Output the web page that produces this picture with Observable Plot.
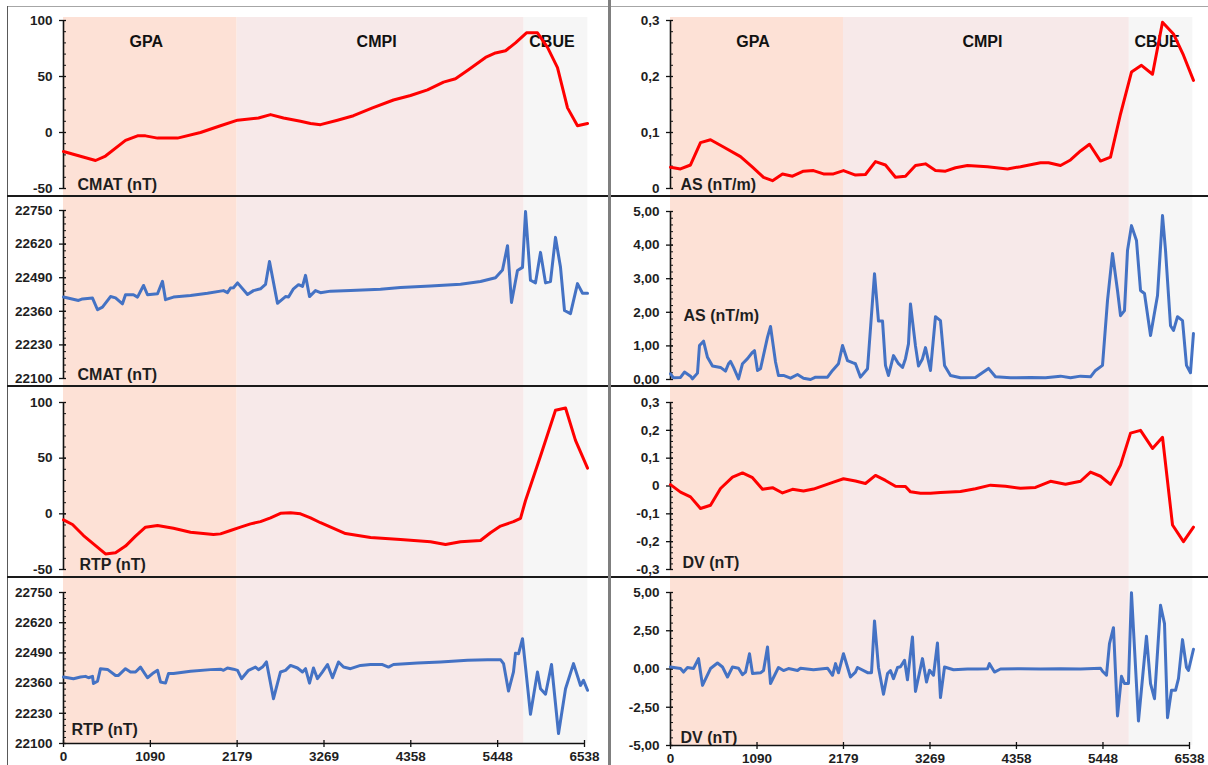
<!DOCTYPE html>
<html><head><meta charset="utf-8">
<script src="https://cdn.jsdelivr.net/npm/d3@7"></script>
<script src="https://cdn.jsdelivr.net/npm/@observablehq/plot@0.6"></script>
<style>
body{margin:0;background:#fff}
#wrap{position:relative;width:1208px;height:765px;overflow:hidden;background:#fff}
.panel{position:absolute}
.line{position:absolute}
</style>
</head><body><div id="wrap"></div>
<script>
// Regions along the profile (distance, m)
const regionNames = ["GPA", "CMPI", "CBUE"];
const regionStart = [0, 2179, 5780];
const regionEnd = [2179, 5780, 6580];
const regionFill = ["#fde1d6", "#f7e9e9", "#f6f6f6"];
const xTicks = [0, 1090, 2179, 3269, 4358, 5448, 6538];

// CMAT residual (nT)
const cmatResX = [0,402,527,778,929,1029,1180,1431,1719,1970,2184,2447,2598,2761,2974,3100,3225,3438,3639,3878,4141,4355,4568,4769,4919,5082,5296,5421,5547,5672,5810,5948,6074,6199,6325,6450,6576];
const cmatResV = [-17,-25,-21,-7,-3,-3,-5,-5,0,6,11,13,16,13,10,8,7,11,15,22,29,33,38,45,48,56,67,71,73,80,89,89,76,58,22,6,8];

// CMAT total field (nT)
const cmatTotX = [0,188,238,364,427,489,590,653,740,778,878,929,1004,1054,1180,1242,1280,1380,1594,1807,2008,2058,2096,2133,2184,2309,2384,2472,2535,2585,2685,2786,2824,2886,2949,2999,3037,3087,3162,3225,3351,3602,3978,4229,4605,4982,5233,5421,5509,5572,5622,5697,5760,5798,5860,5923,5986,6049,6111,6174,6237,6287,6362,6450,6513,6576];
const cmatTotV = [22415,22402,22408,22411,22366,22376,22417,22412,22389,22424,22424,22415,22460,22424,22428,22476,22405,22415,22421,22430,22440,22432,22450,22451,22470,22425,22440,22447,22464,22553,22391,22417,22415,22447,22463,22456,22499,22417,22440,22432,22438,22440,22445,22452,22458,22465,22475,22490,22520,22614,22394,22518,22530,22746,22480,22470,22588,22470,22475,22646,22530,22363,22351,22467,22430,22430];

// RTP residual (nT)
const rtpResX = [0,113,251,402,527,653,778,904,1029,1180,1380,1594,1882,1970,2096,2221,2347,2472,2598,2723,2849,2974,3100,3225,3539,3853,4229,4605,4794,4982,5233,5358,5484,5647,5735,5798,5986,6174,6300,6425,6576];
const rtpResV = [-5.4,-9.6,-19.5,-28.5,-36,-35,-29,-20,-12,-10.5,-13,-16.5,-18.6,-18,-15,-12,-9,-7,-3.6,0.5,1,0,-3.6,-8,-17.7,-21.3,-23,-25,-27.6,-25,-24,-17,-11,-7,-4,12,52,93,95,66,41];

// RTP total (nT)
const rtpTotX = [0,125,213,276,314,364,376,427,464,552,653,690,778,841,904,966,1054,1117,1180,1217,1280,1318,1380,1594,1845,1970,2008,2058,2133,2184,2234,2322,2409,2447,2497,2547,2635,2723,2786,2849,2936,2999,3037,3087,3137,3187,3250,3313,3376,3451,3514,3602,3727,3853,4003,4078,4141,4442,4731,5070,5321,5484,5522,5584,5647,5672,5710,5760,5798,5860,5948,5986,6049,6124,6212,6300,6400,6488,6525,6576];
const rtpTotV = [22386,22379,22386,22389,22383,22389,22358,22368,22422,22419,22393,22393,22422,22408,22408,22429,22383,22401,22415,22365,22360,22401,22401,22411,22418,22420,22415,22425,22420,22415,22379,22415,22429,22418,22429,22451,22293,22408,22415,22436,22425,22408,22422,22360,22425,22379,22408,22440,22383,22451,22429,22422,22436,22440,22440,22429,22440,22446,22451,22458,22461,22461,22444,22326,22408,22489,22486,22551,22429,22226,22408,22336,22312,22440,22143,22336,22444,22350,22372,22329];

// AS residual (nT/m)
const asResX = [0,126,252,378,504,668,882,1033,1172,1285,1411,1537,1675,1801,1927,2053,2179,2330,2456,2582,2708,2834,2960,3086,3212,3338,3464,3590,3741,3993,4245,4409,4661,4762,4913,5039,5165,5278,5417,5543,5669,5807,5933,6072,6198,6336,6462,6588];
const asResV = [0.038,0.035,0.042,0.082,0.087,0.074,0.057,0.038,0.020,0.014,0.026,0.022,0.031,0.032,0.026,0.026,0.032,0.024,0.025,0.048,0.042,0.020,0.022,0.041,0.044,0.032,0.031,0.037,0.041,0.039,0.035,0.039,0.046,0.046,0.041,0.051,0.067,0.079,0.049,0.056,0.133,0.208,0.220,0.204,0.297,0.276,0.238,0.193];

// AS total (nT/m)
const asTotX = [0,38,126,176,252,277,340,365,416,466,529,630,693,731,756,794,857,907,970,1033,1058,1096,1134,1222,1260,1323,1360,1423,1512,1600,1675,1764,1827,1978,2041,2116,2167,2230,2293,2330,2393,2482,2570,2620,2671,2708,2746,2809,2872,2923,2960,2998,3023,3086,3124,3172,3212,3275,3338,3401,3452,3527,3653,3842,4006,4094,4283,4535,4724,4913,5039,5165,5291,5354,5442,5505,5568,5631,5669,5719,5757,5807,5870,5921,5971,6047,6135,6198,6236,6299,6337,6387,6450,6500,6550,6588];
const asTotV = [0.17,0.05,0.06,0.22,0.1,0.02,0.19,1.01,1.14,0.66,0.40,0.36,0.25,0.47,0.54,0.36,0.02,0.47,0.62,0.81,0.86,0.27,0.32,1.26,1.58,0.52,0.12,0.12,0.04,0.15,0.04,0.0,0.07,0.07,0.27,0.47,1.01,0.56,0.5,0.47,0.07,0.32,3.15,1.74,1.74,0.42,0.12,0.71,0.47,0.36,0.62,1.06,2.25,1.0,0.4,0.6,0.95,0.27,1.87,1.75,0.42,0.12,0.05,0.06,0.33,0.08,0.05,0.06,0.05,0.1,0.05,0.1,0.08,0.27,0.42,2.35,3.75,2.65,1.9,2.05,3.84,4.58,4.14,2.65,2.56,1.31,2.5,4.88,3.84,1.6,1.46,1.87,1.75,0.42,0.2,1.37];

// DV residual (nT)
const dvResX = [0,126,252,378,504,630,781,907,1033,1159,1285,1411,1537,1675,1801,2053,2179,2330,2456,2582,2708,2834,2960,3023,3149,3275,3401,3653,3842,4031,4220,4409,4598,4787,4976,5165,5291,5417,5543,5669,5795,5921,6072,6198,6324,6462,6588];
const dvResV = [0.005,-0.022,-0.039,-0.081,-0.069,-0.009,0.032,0.047,0.030,-0.012,-0.006,-0.025,-0.012,-0.018,-0.011,0.014,0.026,0.018,0.009,0.038,0.020,-0.001,-0.002,-0.021,-0.026,-0.026,-0.023,-0.02,-0.01,0.003,-0.001,-0.008,-0.005,0.017,0.006,0.017,0.05,0.035,0.006,0.075,0.19,0.2,0.135,0.175,-0.14,-0.2,-0.148];

// DV total (nT)
const dvTotX = [0,126,164,214,290,353,403,504,592,655,718,781,857,907,945,995,1033,1134,1172,1222,1260,1360,1423,1486,1600,1638,1801,1978,2041,2079,2116,2179,2267,2330,2356,2482,2532,2570,2620,2683,2734,2771,2809,2860,2897,2948,2985,3048,3086,3174,3225,3263,3313,3363,3401,3452,3565,3741,3867,3993,4018,4081,4157,4409,4661,4913,5165,5417,5442,5492,5530,5580,5631,5681,5719,5769,5807,5895,5996,6047,6097,6173,6223,6261,6311,6362,6399,6450,6500,6525,6588];
const dvTotV = [0.13,0.03,-0.2,0.1,0.03,0.68,-1.07,0.03,0.39,0.13,-0.52,0.13,0.05,-0.37,-0.2,1.0,-0.3,-0.25,-0.1,1.44,-0.95,0.1,-0.1,0.03,-0.1,0.05,-0.05,0.05,-0.41,0.35,-0.25,1.0,-0.52,-0.2,0.1,-0.24,-0.24,3.14,0.1,-1.65,-0.3,-0.1,-0.63,0.1,0.15,0.57,-0.7,2.09,-1.47,0.68,-0.85,-0.08,-0.41,1.7,-1.87,0.13,-0.05,0.0,0.0,0.02,0.35,-0.2,0.0,0.02,0.0,0.02,0.0,0.05,-0.15,-0.41,1.66,2.7,-3.07,-0.48,-0.95,-0.95,4.99,-3.4,2.14,-0.95,-1.94,4.16,2.97,-3.18,-1.39,-1.39,-0.63,1.92,0.1,-0.1,1.29];

const RED = "#ff0000", BLUE = "#4472c4";
const FONT = "'Liberation Sans', Arial, Helvetica, sans-serif";

const rows = [
  {top: 0, height: 196, mt: 17},
  {top: 196, height: 191, mt: 0},
  {top: 387, height: 190, mt: 0},
  {top: 578, height: 187, mt: 0}
];
const cols = [
  {left: 0, width: 606, ml: 63, xEnd: 584},
  {left: 606, width: 602, ml: 64, xEnd: 583}
];

const fmtInt = d => String(d);
const fmt1 = d => d === 0 ? "0" : d.toFixed(1).replace(".", ",");
const fmt2 = d => d.toFixed(2).replace(".", ",");

const panels = [
  {row:0, col:0, xs:cmatResX, vs:cmatResV, color:RED, yDomain:[-50,100], yRange:[188,20], yTicks:[-50,0,50,100], step:10, fmt:fmtInt, fb:195, label:"CMAT (nT)", ldx:14, ldy:167},
  {row:1, col:0, xs:cmatTotX, vs:cmatTotV, color:BLUE, yDomain:[22100,22750], yRange:[182,14], yTicks:[22100,22230,22360,22490,22620,22750], step:26, fmt:fmtInt, fb:191, label:"CMAT (nT)", ldx:14, ldy:178},
  {row:2, col:0, xs:rtpResX, vs:rtpResV, color:RED, yDomain:[-50,100], yRange:[182,15], yTicks:[-50,0,50,100], step:10, fmt:fmtInt, fb:190, label:"RTP (nT)", ldx:16, ldy:177},
  {row:3, col:0, xs:rtpTotX, vs:rtpTotV, color:BLUE, yDomain:[22100,22750], yRange:[165,14], yTicks:[22100,22230,22360,22490,22620,22750], step:26, fmt:fmtInt, fb:165, label:"RTP (nT)", ldx:8, ldy:151},
  {row:0, col:1, xs:asResX, vs:asResV, color:RED, yDomain:[0,0.3], yRange:[188,20], yTicks:[0,0.1,0.2,0.3], step:0.02, fmt:fmt1, fb:195, label:"AS (nT/m)", ldx:10, ldy:167},
  {row:1, col:1, xs:asTotX, vs:asTotV, color:BLUE, yDomain:[0,5], yRange:[183,15], yTicks:[0,1,2,3,4,5], step:0.2, fmt:fmt2, fb:191, label:"AS (nT/m)", ldx:13, ldy:119},
  {row:2, col:1, xs:dvResX, vs:dvResV, color:RED, yDomain:[-0.3,0.3], yRange:[182,15], yTicks:[-0.3,-0.2,-0.1,0,0.1,0.2,0.3], step:0.02, fmt:fmt1, fb:190, label:"DV (nT)", ldx:12, ldy:175},
  {row:3, col:1, xs:dvTotX, vs:dvTotV, color:BLUE, yDomain:[-5,5], yRange:[167,14], yTicks:[-5,-2.5,0,2.5,5], step:0.5, fmt:fmt2, fb:167, label:"DV (nT)", ldx:10, ldy:159}
];

const regions = regionNames.map((name, i) => ({name, start: regionStart[i], end: regionEnd[i], fill: regionFill[i]}));
const wrap = document.getElementById("wrap");

for (const p of panels) {
  const r = rows[p.row], c = cols[p.col];
  const mb = r.height - p.fb;
  const fw = c.xEnd - c.ml;
  const fh = p.fb - r.mt;
  const [y0, y1] = p.yDomain;
  const minor = d3.range(0, Math.round((y1 - y0) / p.step) + 1).map(i => y0 + i * p.step);
  const data = p.xs.map((x, i) => ({x, v: p.vs[i]}));
  const marks = [Plot.rect(regions, {x1: "start", x2: "end", fill: "fill"})];
  if (p.row === 0) {
    marks.push(Plot.text(regions, {x: d => (d.start + d.end) / 2, text: "name", frameAnchor: "top", lineAnchor: "middle", dy: 24, dx: -4, fontSize: 16, fontWeight: "bold", fill: "#111"}));
  }
  marks.push(Plot.text([p.label], {frameAnchor: "top-left", dx: p.ldx, dy: p.ldy, textAnchor: "start", lineAnchor: "middle", fontSize: 16, fontWeight: "bold", fill: "#1e1e1e"}));
  marks.push(Plot.tickY(minor, {y: d => d, insetLeft: 0, insetRight: fw - 3, stroke: "#111", strokeWidth: 1}));
  marks.push(Plot.tickY(p.yTicks, {y: d => d, insetLeft: -4, insetRight: fw - 3, stroke: "#111", strokeWidth: 1.3}));
  marks.push(Plot.text(p.yTicks, {y: d => d, text: p.fmt, frameAnchor: "left", dx: -11, textAnchor: "end", lineAnchor: "middle", fontSize: 13.5, fontWeight: "bold", fill: "#1e1e1e"}));
  marks.push(Plot.ruleX([0], {y1: y0, y2: y1, stroke: "#111", strokeWidth: 1.6}));
  if (p.row === 3) {
    marks.push(Plot.ruleY([y0], {x1: 0, x2: 6538, stroke: "#111", strokeWidth: 1.6}));
    marks.push(Plot.tickX(xTicks, {x: d => d, insetTop: fh - 3, insetBottom: -4, stroke: "#111", strokeWidth: 1.3}));
    marks.push(Plot.text(xTicks, {x: d => d, text: d => String(d), frameAnchor: "bottom", lineAnchor: "middle", dy: 13, fontSize: 13.5, fontWeight: "bold", fill: "#1e1e1e"}));
  }
  marks.push(Plot.line(data, {x: "x", y: "v", stroke: p.color, strokeWidth: 3, strokeLinejoin: "round", strokeLinecap: "round"}));

  const svg = Plot.plot({
    width: c.width, height: r.height,
    marginLeft: c.ml, marginRight: c.width - c.xEnd,
    marginTop: r.mt, marginBottom: mb,
    x: {domain: [0, 6538], range: [c.ml, c.xEnd], axis: null},
    y: {domain: p.yDomain, range: p.yRange, axis: null},
    style: {fontFamily: FONT, overflow: "visible", background: "transparent"},
    marks
  });
  const holder = document.createElement("div");
  holder.className = "panel";
  holder.style.left = c.left + "px";
  holder.style.top = r.top + "px";
  holder.appendChild(svg);
  wrap.appendChild(holder);
}

// frame lines
function addLine(left, top, width, height, color) {
  const d = document.createElement("div");
  d.className = "line";
  Object.assign(d.style, {left: left + "px", top: top + "px", width: width + "px", height: height + "px", background: color});
  wrap.appendChild(d);
}
addLine(7, 6, 1201, 1, "#a6a6a6");
addLine(7, 6, 1, 759, "#595959");
for (const y of [195, 385, 576]) {
  addLine(7, y, 601, 2, "#1a1a1a");
  addLine(611, y, 597, 2, "#1a1a1a");
}
addLine(608, 0, 3, 765, "#7f7f7f");
</script>
</body></html>
